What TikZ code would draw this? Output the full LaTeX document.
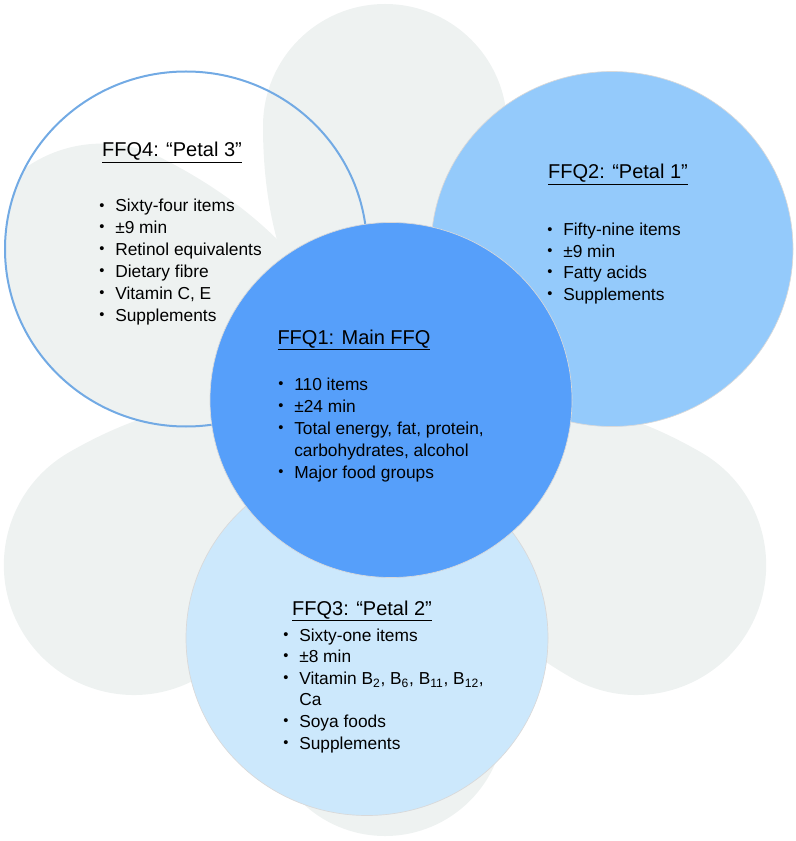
\documentclass[tikz,border=0pt]{standalone}
\usepackage{fontspec}
\setmainfont{Liberation Sans}
\usetikzlibrary{shapes.geometric}

\definecolor{petalgrey}{HTML}{EEF2F1}
\definecolor{mainblue}{HTML}{569FFA}
\definecolor{midblue}{HTML}{94CAFB}
\definecolor{paleblue}{HTML}{CCE8FC}
\definecolor{rimblue}{HTML}{72AAE4}

\newcommand{\bul}{\makebox[12pt][l]{\raisebox{1.4pt}{\fontsize{11}{11}\selectfont •}}}
% petal: angle, distance of the round end, radius
\newcommand{\petal}[3]{\fill[petalgrey, shift={(385,420)}, rotate=#1] (0,0) .. controls ({0.3*#2},{0.7*#3}) and ({0.6*#2},#3) .. (#2,#3) arc[start angle=90, end angle=-90, radius=#3] .. controls ({0.6*#2},-#3) and ({0.3*#2},{-0.7*#3}) .. cycle;}

\tikzset{
  bubble/.style={ellipse, inner sep=0pt, minimum width=362*0.75pt, minimum height=355*0.75pt},
  rim/.style={draw=black!15, line width=0.5pt},
  head/.style={anchor=base, inner sep=0pt, font=\fontsize{15}{18}\selectfont},
  item/.style={anchor=base west, inner sep=0pt, font=\fontsize{13}{16}\selectfont},
}

\begin{document}
\begin{tikzpicture}[x=0.75pt, y=-0.75pt]
	\useasboundingbox (0,0) rectangle (795,841);
	
	% flower behind
	\petal{90}{294}{122}
	\petal{210}{290}{130}
	\petal{270}{296}{120}
	\petal{330}{290}{130}
	\petal{30}{290}{125}
	\begin{scope}
		\clip (186,249) ellipse [x radius=181, y radius=177];
		\petal{153}{318}{132}
	\end{scope}
	
	\node[bubble, draw=rimblue, line width=1.5pt] (ffq4) at (186,249) {};
	\node[bubble, rim, fill=midblue] (ffq2) at (612,249) {};
	\node[bubble, rim, fill=paleblue] (ffq3) at (367,638) {};
	\node[bubble, rim, fill=mainblue] (ffq1) at (391,400) {};
	
	\node[head] (h4) at (172,157) {\underline{FFQ4: “Petal 3”}};
	\node[item] (i41) at (99,212) {\bul Sixty-four items};
	\node[item] (i42) at (99,233.8) {\bul ±9 min};
	\node[item] (i43) at (99,255.6) {\bul Retinol equivalents};
	\node[item] (i44) at (99,277.4) {\bul Dietary fibre};
	\node[item] (i45) at (99,299.2) {\bul Vitamin C, E};
	\node[item] (i46) at (99,321) {\bul Supplements};
	
	\node[head] (h2) at (618,179) {\underline{FFQ2: “Petal 1”}};
	\node[item] (i21) at (547,236) {\bul Fifty-nine items};
	\node[item] (i22) at (547,257.4) {\bul ±9 min};
	\node[item] (i23) at (547,278.8) {\bul Fatty acids};
	\node[item] (i24) at (547,300.2) {\bul Supplements};
	
	\node[head] (h1) at (354,344) {\underline{FFQ1: Main FFQ}};
	\node[item] (i11) at (278,390) {\bul 110 items};
	\node[item] (i12) at (278,412) {\bul ±24 min};
	\node[item] (i13) at (278,434) {\bul Total energy, fat, protein,};
	\node[item] (i14) at (278,456) {\hspace*{12pt}carbohydrates, alcohol};
	\node[item] (i15) at (278,478) {\bul Major food groups};
	
	\node[head] (h3) at (362,615) {\underline{FFQ3: “Petal 2”}};
	\node[item] (i31) at (283,641) {\bul Sixty-one items};
	\node[item] (i32) at (283,662.6) {\bul ±8 min};
	\node[item] (i33) at (283,684.2) {\bul Vitamin B\textsubscript{2}, B\textsubscript{6}, B\textsubscript{11}, B\textsubscript{12},};
	\node[item] (i34) at (283,705.8) {\hspace*{12pt}Ca};
	\node[item] (i35) at (283,727.4) {\bul Soya foods};
	\node[item] (i36) at (283,749) {\bul Supplements};
\end{tikzpicture}
\end{document}
